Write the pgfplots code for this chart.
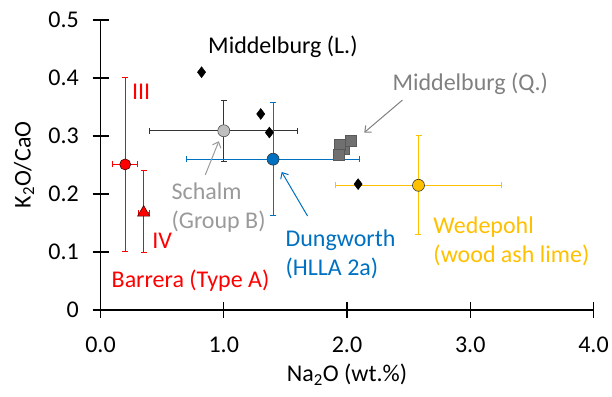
\documentclass[border=0pt]{standalone}
\usepackage{pgfplots}
\pgfplotsset{compat=1.18}
\usetikzlibrary{arrows.meta}
\usepackage{fontspec}
\setmainfont{Carlito}
\definecolor{xred}{HTML}{FF0000}
\definecolor{xblue}{HTML}{0070C0}
\definecolor{xorange}{HTML}{FFC000}
\definecolor{xgray}{HTML}{808080}
\definecolor{sgray}{HTML}{9A9A9A}
\definecolor{lgray}{HTML}{BFBFBF}
\definecolor{sqgray}{HTML}{707070}
\begin{document}
\fontsize{24}{29}\selectfont
\begin{tikzpicture}
\begin{axis}[
  scale only axis, width=493pt, height=290pt,
  xmin=0, xmax=4, ymin=0, ymax=0.5,
  axis x line=bottom, axis y line=left,
  axis line style={line width=1.6pt, -},
  xtick={0,1,2,3,4}, ytick={0,0.1,0.2,0.3,0.4,0.5},
  yticklabels={0,0.1,0.2,0.3,0.4,0.5},
  xticklabel style={/pgf/number format/.cd, fixed, fixed zerofill, precision=1},
  /pgf/number format/assume math mode=true,
  tick align=center, major tick length=16pt,
  tick style={line width=1.4pt, black},
  ticklabel style={font=\fontsize{24}{29}\selectfont},
  xticklabel shift=11pt,
  yticklabel style={xshift=-5.5pt},
  xlabel={Na\textsubscript{2}O (wt.\%)},
  ylabel={K\textsubscript{2}O/CaO},
  label style={font=\fontsize{24}{29}\selectfont},
  ylabel style={yshift=-2pt},
  xlabel style={yshift=5pt},
  clip=false,
]
% Barrera III
\addplot[only marks, mark=*, mark size=5.5pt, mark options={fill=xred, draw=black!70!red, line width=0.6pt},
  error bars/.cd, x dir=both, x explicit, y dir=both, y explicit,
  error bar style={xred, line width=0.9pt}, error mark options={xred, rotate=90, mark size=3pt, line width=0.9pt}]
  coordinates {(0.20,0.251) += (0.10,0.15) -= (0.10,0.15)};
% Barrera IV
\addplot[only marks, mark=triangle*, mark size=7pt, mark options={fill=xred, draw=black!70!red, line width=0.6pt},
  error bars/.cd, x dir=both, x explicit, y dir=both, y explicit,
  error bar style={xred, line width=0.9pt}, error mark options={xred, rotate=90, mark size=3pt, line width=0.9pt}]
  coordinates {(0.35,0.168) += (0.05,0.072) -= (0.04,0.068)};
% Schalm
\addplot[only marks, mark=*, mark size=6pt, mark options={fill=lgray, draw=black!70, line width=0.6pt},
  error bars/.cd, x dir=both, x explicit, y dir=both, y explicit,
  error bar style={black!80, line width=0.9pt}, error mark options={black!80, rotate=90, mark size=3pt, line width=0.9pt}]
  coordinates {(1.00,0.309) += (0.60,0.053) -= (0.60,0.053)};
% Dungworth
\addplot[only marks, mark=*, mark size=6pt, mark options={fill=xblue, draw=black!80, line width=0.6pt},
  error bars/.cd, x dir=both, x explicit, y dir=both, y explicit,
  error bar style={xblue, line width=0.9pt}, error mark options={xblue, rotate=90, mark size=3pt, line width=0.9pt}]
  coordinates {(1.40,0.260) += (0.70,0.098) -= (0.70,0.097)};
% Wedepohl
\addplot[only marks, mark=*, mark size=6pt, mark options={fill=xorange, draw=black!80, line width=0.6pt},
  error bars/.cd, x dir=both, x explicit, y dir=both, y explicit,
  error bar style={xorange, line width=0.9pt}, error mark options={xorange, rotate=90, mark size=3pt, line width=0.9pt}]
  coordinates {(2.58,0.215) += (0.67,0.086) -= (0.67,0.084)};
% Middelburg (L.)
\addplot[only marks, mark=diamond*, mark size=5.5pt, mark options={fill=black, draw=black}]
  coordinates {(0.82,0.410) (1.30,0.338) (1.37,0.306) (2.09,0.217)};
% Middelburg (Q.)
\addplot[only marks, mark=square*, mark size=5.5pt, mark options={fill=sqgray, draw=black!65, line width=0.6pt}]
  coordinates {(1.97,0.278) (2.03,0.292) (1.94,0.284) (1.93,0.267)};
% labels
\node[black] at (axis cs:1.48,0.453) {Middelburg (L.)};
\node[xgray] at (axis cs:3.0,0.39) {Middelburg (Q.)};
\draw[xgray, line width=1pt, -{Straight Barb[length=5pt,width=9pt]}] (axis cs:2.45,0.362) -- (axis cs:2.14,0.306);
\node[xred] at (axis cs:0.33,0.376) {III};
\node[xred] at (axis cs:0.50,0.119) {IV};
\node[xred] at (axis cs:0.73,0.051) {Barrera (Type A)};
\node[sgray, align=left, anchor=west, inner sep=0pt] at (axis cs:0.575,0.177) {Schalm\\(Group B)};
\draw[sgray, line width=1pt, -{Straight Barb[length=5pt,width=9pt]}] (axis cs:0.85,0.233) -- (axis cs:0.96,0.291);
\node[xblue, align=left, anchor=west, inner sep=0pt] at (axis cs:1.50,0.096) {Dungworth\\(HLLA 2a)};
\draw[xblue, line width=1pt, -{Straight Barb[length=5pt,width=9pt]}] (axis cs:1.68,0.162) -- (axis cs:1.47,0.238);
\node[xorange, align=left, anchor=west, inner sep=0pt] at (axis cs:2.70,0.118) {Wedepohl\\(wood ash lime)};
\coordinate (BBll) at (rel axis cs:-0.2039,-0.3);
\coordinate (BBur) at (rel axis cs:1.0375,1.069);
\end{axis}
\pgfresetboundingbox
\useasboundingbox (BBll) rectangle (BBur);
\end{tikzpicture}
\end{document}
